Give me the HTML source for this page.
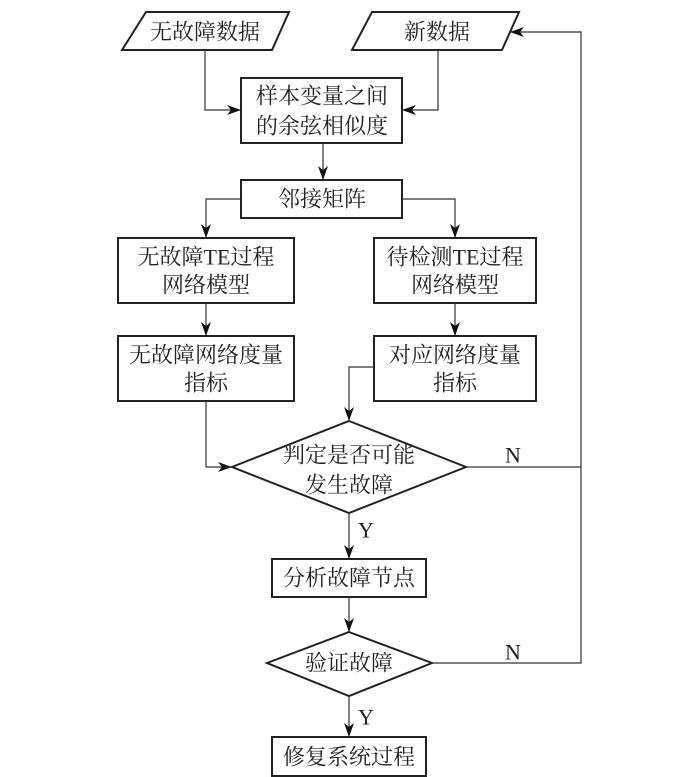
<!DOCTYPE html>
<html><head><meta charset="utf-8"><style>body{margin:0;background:#fff}svg{display:block}text{font-family:"Liberation Serif","Noto Serif CJK SC",serif;font-size:22px;fill:#222;text-anchor:middle;dominant-baseline:central}</style></head><body>
<svg width="700" height="777" viewBox="0 0 700 777">
<defs><marker id="a" markerWidth="14" markerHeight="10" refX="13" refY="5" orient="auto" markerUnits="userSpaceOnUse"><path d="M0,0 L14,5 L0,10 L4,5 Z" fill="#111"/></marker></defs>
<g fill="none" stroke="#222" stroke-width="2">
<polygon points="146,12 289,12 272,50 122,50"/>
<polygon points="372,12 519,12 502,50 352,50"/>
<rect x="241" y="78" width="161" height="65"/>
<rect x="241" y="180" width="161" height="38"/>
<rect x="118" y="238" width="176" height="65"/>
<rect x="374" y="238" width="162" height="65"/>
<rect x="118" y="336" width="176" height="65"/>
<rect x="374" y="336" width="162" height="65"/>
<polygon points="349,421 466,467 349,513 232,467"/>
<rect x="272" y="559" width="154" height="38"/>
<polygon points="349,632 432,663 349,696 267,663"/>
<rect x="272" y="737" width="154" height="39"/>
</g>
<g fill="none" stroke="#333" stroke-width="1.2">
<path d="M205,50 V110 H240" marker-end="url(#a)"/>
<path d="M438,50 V110 H403" marker-end="url(#a)"/>
<path d="M323,143 V179" marker-end="url(#a)"/>
<path d="M241,199 H206 V237" marker-end="url(#a)"/>
<path d="M402,199 H455 V237" marker-end="url(#a)"/>
<path d="M206,303 V335" marker-end="url(#a)"/>
<path d="M455,303 V335" marker-end="url(#a)"/>
<path d="M374,367 H349 V420" marker-end="url(#a)"/>
<path d="M206,401 V467 H231" marker-end="url(#a)"/>
<path d="M466,467 H581"/>
<path d="M349,513 V558" marker-end="url(#a)"/>
<path d="M349,597 V631" marker-end="url(#a)"/>
<path d="M432,663 H581 V32 H511" marker-end="url(#a)"/>
<path d="M349,696 V736" marker-end="url(#a)"/>
</g>
<text x="205" y="32">无故障数据</text>
<text x="437" y="32">新数据</text>
<text x="322" y="96">样本变量之间</text>
<text x="322" y="126">的余弦相似度</text>
<text x="322" y="199">邻接矩阵</text>
<text x="206" y="257">无故障TE过程</text>
<text x="206" y="285">网络模型</text>
<text x="455" y="257">待检测TE过程</text>
<text x="455" y="285">网络模型</text>
<text x="206" y="355">无故障网络度量</text>
<text x="206" y="383">指标</text>
<text x="455" y="355">对应网络度量</text>
<text x="455" y="383">指标</text>
<text x="349" y="455">判定是否可能</text>
<text x="349" y="485">发生故障</text>
<text x="513" y="455">N</text>
<text x="366" y="530">Y</text>
<text x="349" y="578">分析故障节点</text>
<text x="349" y="663">验证故障</text>
<text x="513" y="652">N</text>
<text x="366" y="717">Y</text>
<text x="349" y="757">修复系统过程</text>
</svg>
</body></html>
